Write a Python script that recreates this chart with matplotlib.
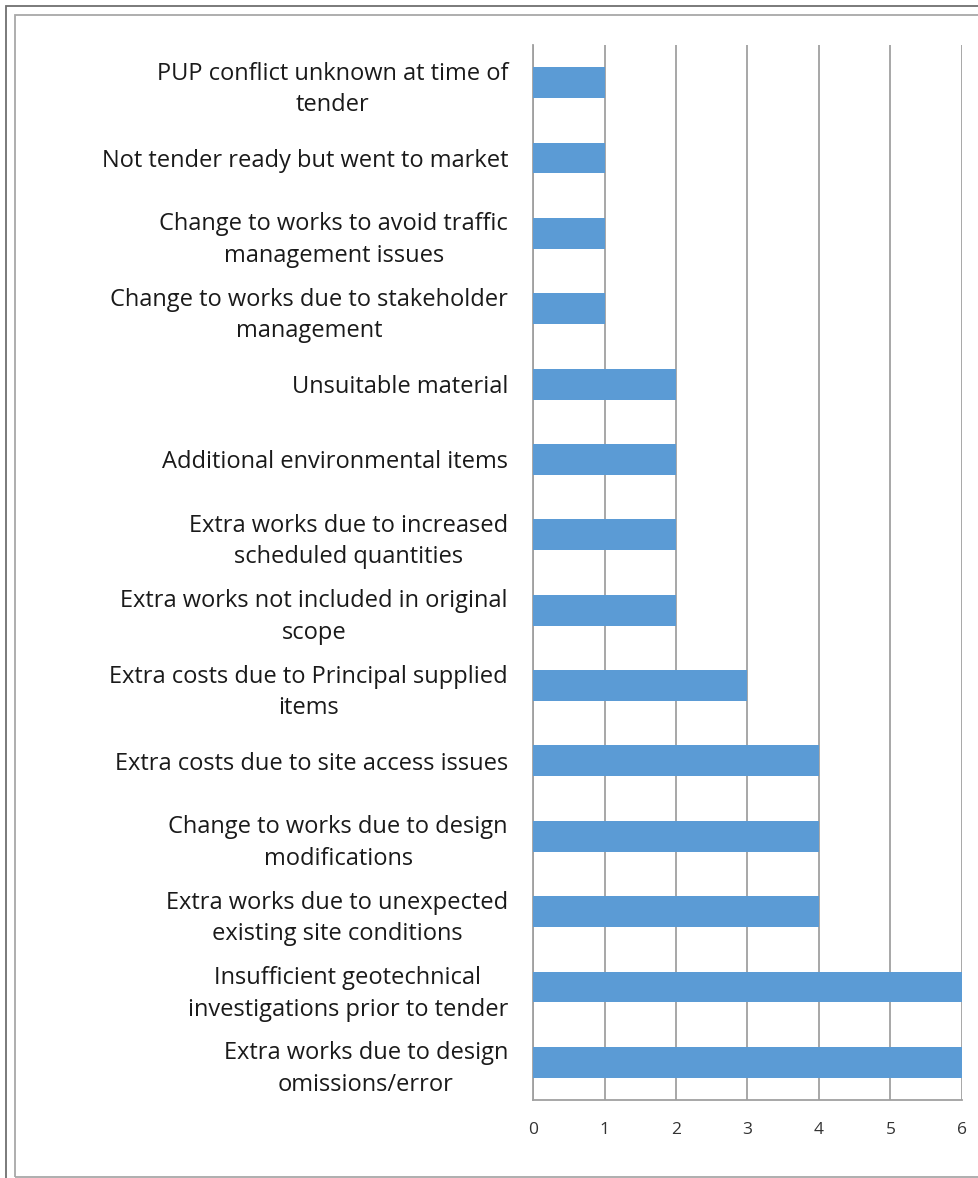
import matplotlib.pyplot as plt
from matplotlib.patches import Rectangle

# Causes of variations and how many times each came up
causes = [
    "PUP conflict unknown at time of\ntender",
    "Not tender ready but went to market",
    "Change to works to avoid traffic\nmanagement issues",
    "Change to works due to stakeholder\nmanagement",
    "Unsuitable material",
    "Additional environmental items",
    "Extra works due to increased\nscheduled quantities",
    "Extra works not included in original\nscope",
    "Extra costs due to Principal supplied\nitems",
    "Extra costs due to site access issues",
    "Change to works due to design\nmodifications",
    "Extra works due to unexpected\nexisting site conditions",
    "Insufficient geotechnical\ninvestigations prior to tender",
    "Extra works due to design\nomissions/error",
]
counts = [1, 1, 1, 1, 2, 2, 2, 2, 3, 4, 4, 4, 6, 6]
x_ticks = [0, 1, 2, 3, 4, 5, 6]

W, H = 979, 1178
fig = plt.figure(figsize=(W / 100, H / 100), dpi=100)
ax = fig.add_axes([533 / W, 78 / H, (962 - 533) / W, (1100 - 45) / H])

pos = list(range(len(causes)))
ax.barh(pos, counts, height=0.41, color="#5B9BD5", zorder=3)
ax.set_ylim(len(causes) - 0.5, -0.5)
ax.set_xlim(0, 6)

ax.set_xticks(x_ticks)
ax.set_xticklabels([str(t) for t in x_ticks], fontsize=12.5, color="#333333",
                   family="Open Sans")
ax.set_yticks(pos)
ax.set_yticklabels(causes, fontsize=17, color="#1a1a1a", family="Open Sans",
                   linespacing=1.42)
for lab in ax.get_yticklabels():
    lab.set_multialignment("center")
ax.tick_params(axis="both", length=0)
ax.tick_params(axis="y", pad=18)
ax.tick_params(axis="x", pad=16)

ax.grid(axis="x", color="#a0a0a0", linewidth=1.3, zorder=0)
for side in ["top", "right"]:
    ax.spines[side].set_visible(False)
ax.spines["left"].set_color("#a0a0a0")
ax.spines["left"].set_linewidth(1.3)
ax.spines["bottom"].set_color("#a0a0a0")
ax.spines["bottom"].set_linewidth(1.3)

# double frame around the chart
fig.patches.append(Rectangle((6 / W, -0.1), 1.2, 0.1 + (H - 6) / H, transform=fig.transFigure,
                             fill=False, edgecolor="#707070", linewidth=1.3))
fig.patches.append(Rectangle((15 / W, 1 / H), 1.2, (H - 16) / H, transform=fig.transFigure,
                             fill=False, edgecolor="#a8a8a8", linewidth=1.3))

fig.savefig("out.png", dpi=100)
